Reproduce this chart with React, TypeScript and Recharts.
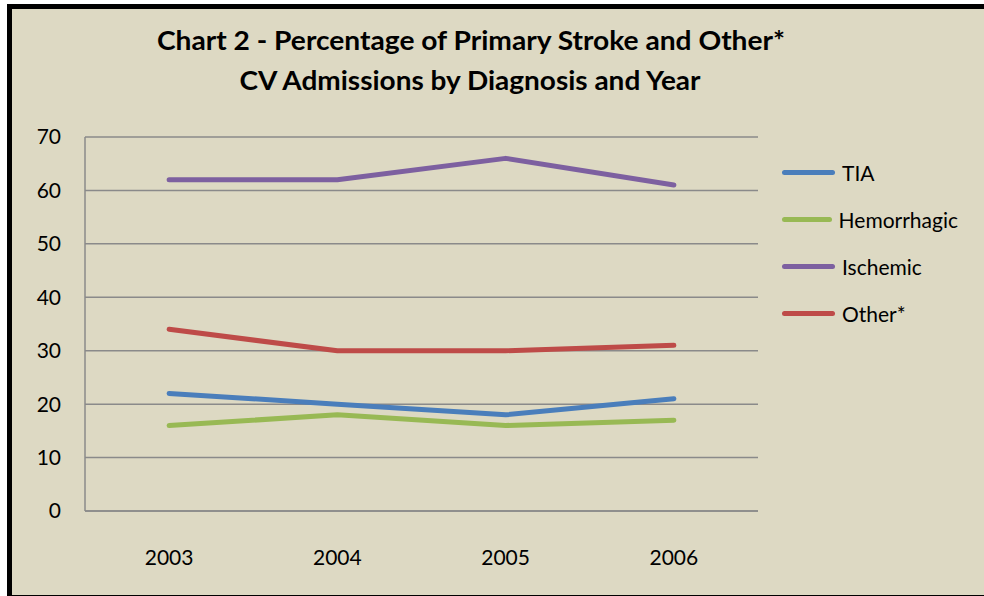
import React from 'react';
import { LineChart, Line, XAxis, YAxis, CartesianGrid, Legend } from 'recharts';

const years = ['2003', '2004', '2005', '2006'];
const tia = [22, 20, 18, 21];
const hemorrhagic = [16, 18, 16, 17];
const ischemic = [62, 62, 66, 61];
const other = [34, 30, 30, 31];
const yTicks = [0, 10, 20, 30, 40, 50, 60, 70];

const series = [
  { key: 'TIA', values: tia, color: '#4A7EBB' },
  { key: 'Hemorrhagic', values: hemorrhagic, color: '#98B954' },
  { key: 'Ischemic', values: ischemic, color: '#7D60A0' },
  { key: 'Other*', values: other, color: '#BE4B48' },
];

const data = years.map((year, i) => {
  const row: Record<string, string | number> = { year };
  series.forEach((s) => { row[s.key] = s.values[i]; });
  return row;
});

const FONT = 'Lato, "DejaVu Sans", sans-serif';
const BG = '#DDD9C3';
const GRID = '#8A8A8A';

function renderLegend() {
  return (
    <div style={{ fontFamily: FONT, fontSize: 21, color: '#000', paddingLeft: 24 }}>
      {series.map((s) => (
        <div key={s.key} style={{ display: 'flex', alignItems: 'center', height: 47 }}>
          <div style={{ width: 53, height: 5, borderRadius: 3, background: s.color, marginRight: 7 }} />
          <span>{s.key}</span>
        </div>
      ))}
    </div>
  );
}

export default function App() {
  return (
    <div style={{ position: 'absolute', left: 0, top: 0, width: 984, height: 596, background: '#fff', overflow: 'hidden' }}>
      <div style={{ position: 'absolute', left: 7, top: 4, width: 1000, height: 596, boxSizing: 'border-box', border: '5px solid #000', background: BG }} />
      <svg width={984} height={120} style={{ position: 'absolute', left: 0, top: 0 }}>
        <text x={471} y={50} textAnchor="middle" fontFamily={FONT} fontWeight={700} fontSize={27} textLength={628} lengthAdjust="spacingAndGlyphs">
          Chart 2 - Percentage of Primary Stroke and Other*
        </text>
        <text x={470} y={90} textAnchor="middle" fontFamily={FONT} fontWeight={700} fontSize={27} textLength={461} lengthAdjust="spacingAndGlyphs">
          CV Admissions by Diagnosis and Year
        </text>
      </svg>
      <div style={{ position: 'absolute', left: 0, top: 0 }}>
        <LineChart width={984} height={596} data={data} margin={{ top: 137, right: 26, bottom: 25, left: 0 }}>
          <CartesianGrid vertical={false} stroke={GRID} strokeWidth={1.5} />
          <XAxis
            dataKey="year"
            scale="band"
            height={60}
            tickLine={false}
            tickSize={0}
            tickMargin={39}
            stroke={GRID}
            strokeWidth={1.5}
            tick={{ fill: '#000', fontSize: 21, fontFamily: FONT }}
          />
          <YAxis
            domain={[0, 70]}
            ticks={yTicks}
            width={85}
            tickLine={false}
            tickSize={0}
            tickMargin={24}
            stroke={GRID}
            strokeWidth={1.5}
            interval={0}
            tick={{ fill: '#000', fontSize: 21, fontFamily: FONT }}
          />
          <Legend
            layout="vertical"
            align="right"
            verticalAlign="top"
            content={renderLegend}
            wrapperStyle={{ top: 149, right: 26, width: 200 }}
          />
          {series.map((s) => (
            <Line
              key={s.key}
              dataKey={s.key}
              stroke={s.color}
              strokeWidth={5}
              strokeLinecap="round"
              strokeLinejoin="round"
              dot={false}
              activeDot={false}
              isAnimationActive={false}
            />
          ))}
        </LineChart>
      </div>
    </div>
  );
}
